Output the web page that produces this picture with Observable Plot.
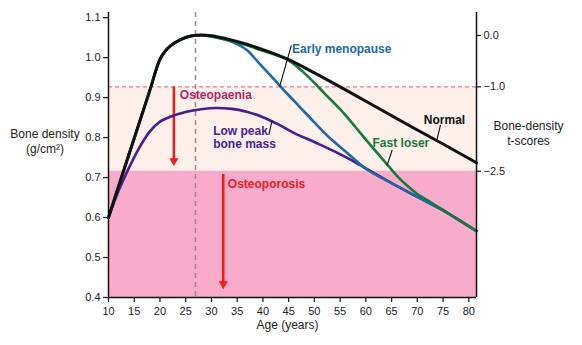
<!DOCTYPE html>
<html><head><meta charset="utf-8">
<script src="https://cdn.jsdelivr.net/npm/d3@7"></script>
<script src="https://cdn.jsdelivr.net/npm/@observablehq/plot@0.6"></script>
<style>body{margin:0;background:#fff}</style>
</head><body><div id="chart"></div>
<script>
// ---- data (age in years, bone density g/cm2) ----
const normal = [[10,0.600],[12,0.680],[14,0.759],[16,0.838],[18,0.917],[20,0.996],[21,1.016],[22,1.029],[24,1.045],[26,1.054],[28,1.057],[30,1.055],[33,1.047],[36,1.037],[40,1.020],[45,0.995],[50,0.962],[55,0.927],[60,0.891],[65,0.855],[70,0.819],[75,0.784],[81.5,0.737]];
const fastLoser = [[10,0.600],[12,0.680],[14,0.759],[16,0.838],[18,0.917],[20,0.996],[21,1.016],[22,1.029],[24,1.045],[26,1.054],[28,1.056],[30,1.053],[33,1.044],[36,1.034],[40,1.017],[45,0.993],[48,0.962],[50,0.937],[52,0.910],[55,0.871],[58,0.826],[60,0.795],[62,0.765],[64,0.735],[66,0.705],[68,0.680],[70,0.659],[72,0.643],[75,0.619],[78,0.594],[81.5,0.567]];
const earlyMenopause = [[10,0.600],[12,0.680],[14,0.759],[16,0.838],[18,0.917],[20,0.996],[21,1.016],[22,1.029],[24,1.045],[26,1.054],[28,1.056],[30,1.053],[33,1.044],[35,1.034],[37,1.018],[39,0.990],[41,0.962],[43,0.934],[45,0.906],[47,0.879],[50,0.838],[53,0.799],[56,0.766],[60,0.722],[65,0.686],[70,0.652],[75,0.618],[81.5,0.566]];
const lowPeak = [[10,0.600],[12,0.668],[14,0.725],[16,0.775],[18,0.815],[20,0.840],[22,0.852],[25,0.864],[28,0.871],[31,0.874],[34,0.872],[37,0.864],[40,0.851],[43,0.833],[46,0.812],[50,0.789],[54,0.765],[57,0.745],[60,0.723],[65,0.686],[70,0.652],[75,0.618],[81.5,0.566]];

const xTicks = [10,15,20,25,30,35,40,45,50,55,60,65,70,75,80];
const yTicks = [0.4,0.5,0.6,0.7,0.8,0.9,1.0,1.1];
const tScoreBmd = [1.0556, 0.927, 0.716];
const tScoreLabels = ["0.0", "\u22121.0", "\u22122.5"];
const peakAge = [26.9];

const curveLabels = ["Early menopause", "Low peak\nbone mass", "Fast loser", "Normal", "Osteopaenia", "Osteoporosis"];
const labelAge = [45.67, 30.34, 61.3, 71.26, 23.86, 33.19];
const labelBmd = [1.023, 0.801, 0.787, 0.844, 0.9066, 0.6845];
const labelColor = ["#1b6aa3", "#4a1c8f", "#17793c", "#111111", "#b81f6b", "#e3202a"];

const leaderAge1 = [45.52, 41.8, 65.12, 74.5];
const leaderAge2 = [43.25, 41.15, 64.15, 73.73];
const leaderBmd1 = [1.0306, 0.844, 0.769, 0.8316];
const leaderBmd2 = [0.9279, 0.8066, 0.7315, 0.7898];

const arrowAge = [22.7, 32.3];
const arrowFrom = [0.927, 0.708];
const arrowHead = [0.742, 0.434];

const xDomain = [10, 81.5];
const yDomain = [0.4, 1.113];

const tMap = new Map(tScoreBmd.map((d, i) => [d, tScoreLabels[i]]));
const font = "'Liberation Sans', Arial, Helvetica, sans-serif";

const chart = Plot.plot({
  width: 582, height: 345,
  marginLeft: 108, marginRight: 106, marginTop: 12, marginBottom: 48,
  x: {domain: xDomain},
  y: {domain: yDomain},
  style: {fontFamily: font, fontSize: "11px", color: "#222", background: "#fff"},
  marks: [
    Plot.rect([0], {x1: xDomain[0], x2: xDomain[1], y1: tScoreBmd[2], y2: tScoreBmd[1], fill: "#fdefea"}),
    Plot.rect([0], {x1: xDomain[0], x2: xDomain[1], y1: yDomain[0], y2: tScoreBmd[2], fill: "#f8abcb"}),
    Plot.ruleY([tScoreBmd[1]], {stroke: "#e77aa2", strokeDasharray: "4,3", strokeWidth: 1.2}),
    Plot.ruleX(peakAge, {stroke: "#9b8b8e", strokeDasharray: "5,4", strokeWidth: 1.5}),
    // arrows
    Plot.ruleX(arrowAge, {x: d => d, y1: (d, i) => arrowFrom[i], y2: (d, i) => arrowHead[i], stroke: "#f31b1b", strokeWidth: 2.5}),
    Plot.dot(arrowAge, {x: d => d, y: (d, i) => arrowHead[i], symbol: "triangle", r: 3.4, rotate: 180, fill: "#f31b1b", stroke: null}),
    // curves
    Plot.line(lowPeak, {x: d => d[0], y: d => d[1], stroke: "#4a1c8f", strokeWidth: 2.6, curve: "monotone-x"}),
    Plot.line(earlyMenopause, {x: d => d[0], y: d => d[1], stroke: "#1b6aa3", strokeWidth: 2.6, curve: "monotone-x"}),
    Plot.line(fastLoser, {x: d => d[0], y: d => d[1], stroke: "#17793c", strokeWidth: 2.6, curve: "monotone-x"}),
    Plot.line(normal, {x: d => d[0], y: d => d[1], stroke: "#111", strokeWidth: 3, curve: "monotone-x"}),
    // leaders
    Plot.link(leaderAge1, {x1: d => d, x2: (d, i) => leaderAge2[i], y1: (d, i) => leaderBmd1[i], y2: (d, i) => leaderBmd2[i], stroke: "#111", strokeWidth: 1.1}),
    // labels
    Plot.text(curveLabels, {x: (d, i) => labelAge[i], y: (d, i) => labelBmd[i], text: d => d, fill: (d, i) => labelColor[i], textAnchor: "start", fontWeight: "bold", fontSize: 12, lineHeight: 1.1}),
    // frame
    Plot.ruleX(xDomain, {stroke: "#111", strokeWidth: 1.5}),
    Plot.ruleY([yDomain[0]], {stroke: "#111", strokeWidth: 1.5}),
    // axes
    Plot.axisY({ticks: yTicks, tickSize: 5, tickPadding: 3, tickFormat: d => d.toFixed(1), label: null, strokeWidth: 1.3}),
    Plot.axisY({anchor: "right", ticks: tScoreBmd, tickSize: 4, tickPadding: 3, tickFormat: d => tMap.get(d), label: null, strokeWidth: 1.3}),
    Plot.axisX({ticks: xTicks, tickSize: 5, tickPadding: 5, tickFormat: d => String(d), label: null, strokeWidth: 1.3}),
    // axis titles
    Plot.text(["Age (years)"], {frameAnchor: "bottom", dx: -5, dy: 31, fontSize: 12, fill: "#222"}),
    Plot.text(["Bone density\n(g/cm\u00b2)"], {x: xDomain[0], y: 0.793, dx: -63.5, fontSize: 12, lineHeight: 1.25, fill: "#222", textAnchor: "middle"}),
    Plot.text(["Bone-density\nt-scores"], {x: xDomain[1], y: 0.812, dx: 52, fontSize: 12, lineHeight: 1.2, fill: "#222", textAnchor: "middle"})
  ]
});
document.getElementById("chart").appendChild(chart);
</script>
</body></html>
